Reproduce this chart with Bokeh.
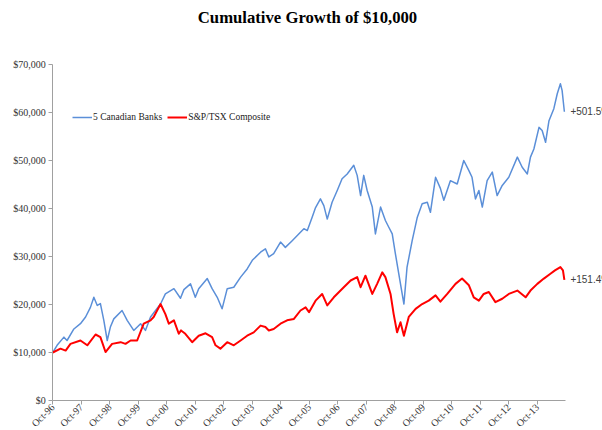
import math
from bokeh.plotting import figure
from bokeh.models import (FixedTicker, NumeralTickFormatter, Label, Legend, LegendItem, Range1d)
from bokeh.embed import file_html
from bokeh.resources import INLINE

# years since Oct-1996
banks_t = [0, 0.15, 0.39, 0.5, 0.74, 0.97, 1.15, 1.32, 1.44, 1.56, 1.67, 1.79, 1.91, 2.02, 2.14,
           2.43, 2.61, 2.84, 3.08, 3.25, 3.43, 3.78, 3.95, 4.25, 4.48, 4.6, 4.83, 5.0, 5.12, 5.42,
           5.59, 5.77, 5.94, 6.12, 6.35, 6.59, 6.82, 7.0, 7.29, 7.46, 7.58, 7.75, 7.99, 8.16, 8.4,
           8.63, 8.81, 8.93, 9.1, 9.22, 9.39, 9.51, 9.63, 9.8, 9.98, 10.15, 10.33, 10.56, 10.68,
           10.8, 10.91, 11.03, 11.21, 11.32, 11.5, 11.67, 11.79, 11.91, 12.02, 12.14, 12.32, 12.43,
           12.61, 12.79, 12.96, 13.14, 13.25, 13.43, 13.6, 13.72, 13.95, 14.19, 14.42, 14.6, 14.71,
           14.83, 14.95, 15.07, 15.24, 15.42, 15.59, 15.77, 16.0, 16.3, 16.47, 16.65, 16.76, 16.88,
           17.06, 17.17, 17.29, 17.41, 17.58, 17.7, 17.81, 17.87, 17.95]
banks_v = [10000, 11500, 13200, 12500, 14900, 16000, 17400, 19400, 21500, 19800, 20200, 16700,
           12500, 15300, 17000, 18750, 16700, 14600, 16000, 14600, 17400, 20100, 22200, 23300,
           21300, 23100, 24300, 21500, 23300, 25400, 23300, 21500, 19100, 23300, 23600, 25700,
           27400, 29200, 30900, 31600, 29900, 30600, 33000, 31900, 33300, 34700, 35800, 35400,
           38200, 40200, 42000, 40600, 37800, 41300, 43750, 46200, 47200, 49000, 46900, 42700,
           46900, 43750, 40300, 34700, 40300, 37500, 36100, 34700, 30600, 26400, 20100, 27800,
           33300, 38200, 41000, 41300, 39200, 46500, 44200, 41700, 45800, 45100, 50000, 47900,
           46500, 42000, 43750, 40300, 45800, 47600, 42700, 44800, 46500, 50700, 48600, 47200,
           50700, 52400, 56900, 56250, 53800, 58300, 60800, 63900, 66000, 64600, 60150]

tsx_t = [0, 0.27, 0.45, 0.62, 0.97, 1.21, 1.5, 1.67, 1.85, 2.08, 2.38, 2.55, 2.73, 2.96, 3.19,
         3.43, 3.54, 3.78, 3.95, 4.07, 4.25, 4.42, 4.5, 4.65, 4.89, 5.12, 5.36, 5.59, 5.71, 5.88,
         6.12, 6.35, 6.59, 6.82, 7.05, 7.29, 7.46, 7.58, 7.75, 7.99, 8.22, 8.46, 8.69, 8.87, 8.99,
         9.22, 9.45, 9.63, 9.86, 10.21, 10.45, 10.68, 10.8, 10.97, 11.21, 11.38, 11.56, 11.67,
         11.85, 11.96, 12.08, 12.2, 12.32, 12.49, 12.73, 12.96, 13.19, 13.43, 13.6, 13.84, 14.13,
         14.36, 14.6, 14.77, 14.95, 15.12, 15.3, 15.53, 15.77, 16.0, 16.3, 16.59, 16.76, 17.0,
         17.23, 17.46, 17.62, 17.81, 17.9, 17.95]
tsx_v = [10000, 10800, 10400, 11800, 12500, 11500, 13750, 13200, 10100, 11800, 12150, 11800,
         12500, 12500, 16000, 16700, 17400, 20100, 18000, 16000, 16700, 13900, 14600, 13900,
         12150, 13500, 14000, 13200, 11500, 10800, 12150, 11500, 12500, 13500, 14200, 15600,
         15300, 14600, 14900, 16000, 16700, 17000, 18750, 19400, 18400, 20800, 22200, 19800,
         21500, 23600, 25000, 25700, 23600, 26000, 22200, 24300, 26700, 25700, 22200, 18000,
         14200, 16300, 13500, 17400, 19100, 20100, 20800, 21900, 20600, 22200, 24300, 25400,
         24000, 21500, 20800, 22200, 22600, 20500, 21200, 22200, 22900, 21500, 22900, 24300,
         25400, 26400, 27100, 27800, 27100, 25140]

tick_pos = list(range(0, 18))
tick_labels = ["Oct-%02d" % ((96 + i) % 100) for i in tick_pos]
y_ticks = [0, 10000, 20000, 30000, 40000, 50000, 60000, 70000]
series_names = ["5 Canadian Banks", "S&P/TSX Composite"]
end_labels = ["+501.5%", "+151.4%"]
title_text = "Cumulative Growth of $10,000"

# ---- layout (canvas pixels) ----
W, H = 602, 430
X0_PX = 52.3        # canvas x of Oct-96
PX_PER_YEAR = 28.5
Y0_PX = 400.0       # canvas y (from top) of $0
PX_PER_DOLLAR = 336.0 / 70000

def sx_to_x(px):
    return (px - X0_PX) / PX_PER_YEAR

def sy_to_y(py):
    return (Y0_PX - py) / PX_PER_DOLLAR

p = figure(width=W, height=H, output_backend="svg", toolbar_location=None, title=None,
           x_range=Range1d(sx_to_x(0), sx_to_x(W)), y_range=Range1d(sy_to_y(H), sy_to_y(0)),
           min_border=0)
p.outline_line_color = None
p.grid.visible = False
p.background_fill_color = "white"
p.border_fill_color = "white"

r1 = p.line(banks_t, banks_v, line_color="#5B8FD8", line_width=1.5, line_join="round")
r2 = p.line(tsx_t, tsx_v, line_color="#FF0000", line_width=2, line_join="round")

for ax in (p.xaxis[0], p.yaxis[0]):
    ax.fixed_location = 0
    ax.axis_line_color = "#A0A0A0"
    ax.major_tick_line_color = "#A0A0A0"
    ax.minor_tick_line_color = None
    ax.major_tick_in = 0
    ax.major_tick_out = 4
    ax.major_label_text_font = "Liberation Serif"
    ax.major_label_text_color = "#333333"
    ax.major_label_text_font_size = "10px"

p.xaxis.bounds = (0, 18)
p.xaxis.ticker = FixedTicker(ticks=tick_pos)
p.xaxis.major_label_overrides = {t: lab for t, lab in zip(tick_pos, tick_labels)}
p.xaxis.major_label_orientation = math.pi / 4
p.xaxis.major_label_standoff = 1

p.yaxis.bounds = (0, 70000)
p.yaxis.ticker = FixedTicker(ticks=y_ticks)
p.yaxis.formatter = NumeralTickFormatter(format="$0,0")
p.yaxis.major_label_standoff = 3

legend = Legend(items=[LegendItem(label=series_names[0], renderers=[r1]),
                       LegendItem(label=series_names[1], renderers=[r2])],
                orientation="horizontal", location=(72, H - 123),
                border_line_color=None, background_fill_alpha=0,
                padding=0, margin=0, spacing=5, glyph_width=20, glyph_height=12,
                label_height=12, label_standoff=1, label_text_font="Liberation Serif",
                label_text_font_size="9.5px", label_text_color="#222222")
p.add_layout(legend)

p.add_layout(Label(x=sx_to_x(307), y=sy_to_y(17), text=title_text, text_align="center",
                   text_baseline="middle", text_font="Liberation Serif", text_font_style="bold",
                   text_font_size="16.7px", text_color="#000000"))

for t, v, txt in ((banks_t[-1], banks_v[-1], end_labels[0]), (tsx_t[-1], tsx_v[-1], end_labels[1])):
    p.add_layout(Label(x=t, y=v, text=txt, x_offset=6, text_baseline="middle",
                       text_font="Liberation Sans", text_font_size="10px", text_color="#404040"))

open("out.html", "w").write(file_html(p, INLINE))
